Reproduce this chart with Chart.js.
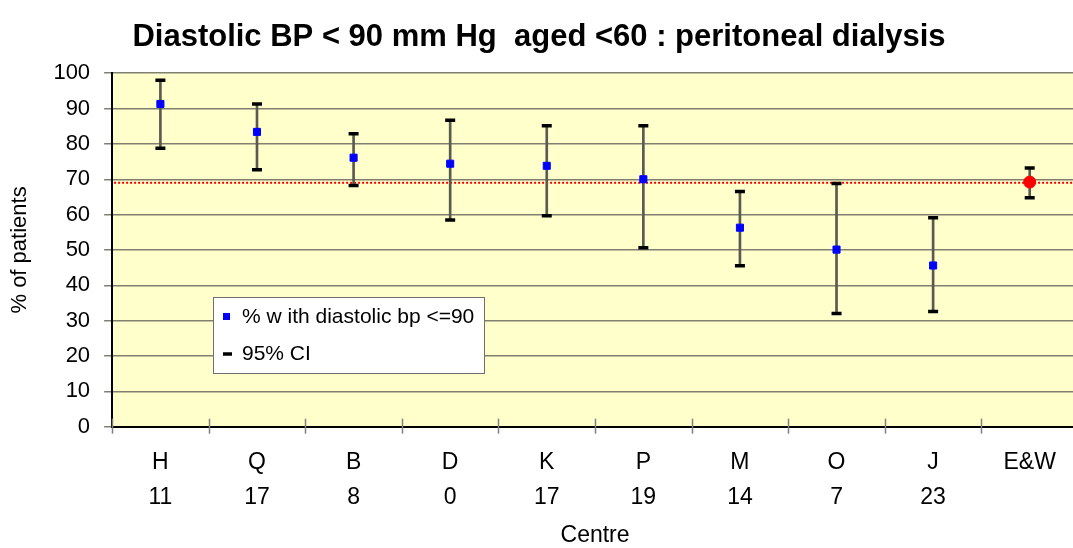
<!DOCTYPE html>
<html>
<head>
<meta charset="utf-8">
<script src="https://cdn.jsdelivr.net/npm/chart.js@4"></script>
<style>
    html, body { margin: 0; padding: 0; background: #ffffff; overflow: hidden; }
    canvas { display: block; }
</style>
</head>
<body>
<canvas id="chart" width="1100" height="548"></canvas>
<script>
const centres = ['H', 'Q', 'B', 'D', 'K', 'P', 'M', 'O', 'J', 'E&W'];
const patientCounts = ['11', '17', '8', '0', '17', '19', '14', '7', '23', ''];
const percentWithBp = [91.3, 83.4, 76.1, 74.4, 73.8, 70.0, 56.3, 50.1, 45.6, 69.2];
const ciLower = [78.8, 72.7, 68.2, 58.5, 59.7, 50.6, 45.5, 32.0, 32.6, 64.8];
const ciUpper = [98.0, 91.3, 82.9, 86.7, 85.1, 85.1, 66.5, 68.8, 59.1, 73.2];
const nationalAverage = 69.0;
const yTicks = [0, 10, 20, 30, 40, 50, 60, 70, 80, 90, 100];

const FONT = 'Arial, "Liberation Sans", sans-serif';
const lastIndex = centres.length - 1;

const plotBackground = {
    id: 'plotBackground',
    beforeDraw(chart) {
        const { ctx, chartArea: a } = chart;
        ctx.save();
        ctx.fillStyle = '#ffffcc';
        ctx.fillRect(a.left, a.top, a.right - a.left, a.bottom - a.top);
        ctx.restore();
    },
};

// dotted red line for the E&W average
const averageLine = {
    id: 'averageLine',
    beforeDatasetsDraw(chart) {
        const { ctx, chartArea: a, scales } = chart;
        const y = scales.y.getPixelForValue(nationalAverage);
        ctx.save();
        ctx.strokeStyle = '#ff0000';
        ctx.lineWidth = 2;
        ctx.setLineDash([2, 2]);
        ctx.beginPath();
        ctx.moveTo(a.left + 2, y);
        ctx.lineTo(a.right, y);
        ctx.stroke();
        ctx.restore();
    },
};

// x tick marks crossing the axis, between categories
const crossTicks = {
    id: 'crossTicks',
    afterDraw(chart) {
        const { ctx, scales } = chart;
        const x = scales.x;
        ctx.save();
        ctx.strokeStyle = '#808080';
        ctx.lineWidth = 1.5;
        for (let i = 0; i <= centres.length; i++) {
            const px = Math.round(x.getPixelForValue(i - 0.5)) + 0.5;
            ctx.beginPath();
            ctx.moveTo(px, x.top - 8);
            ctx.lineTo(px, x.top + 7);
            ctx.stroke();
        }
        ctx.restore();
    },
};

const boxLegend = {
    id: 'boxLegend',
    afterDraw(chart) {
        const { ctx } = chart;
        const ds = chart.data.datasets;
        ctx.save();
        ctx.fillStyle = '#ffffff';
        ctx.fillRect(213, 297, 271, 76);
        ctx.strokeStyle = '#707070';
        ctx.lineWidth = 1;
        ctx.strokeRect(213.5, 297.5, 271, 76);

        ctx.fillStyle = '#0000ff';
        ctx.fillRect(223, 313, 7, 7);
        ctx.strokeStyle = '#000000';
        ctx.lineWidth = 3.5;
        ctx.beginPath();
        ctx.moveTo(223, 354);
        ctx.lineTo(232, 354);
        ctx.stroke();

        ctx.fillStyle = '#000000';
        ctx.font = '21px ' + FONT;
        ctx.textBaseline = 'middle';
        ctx.fillText(ds[0].label, 242, 317);
        ctx.fillText(ds[1].label, 242, 354);
        ctx.restore();
    },
};

new Chart(document.getElementById('chart'), {
    type: 'bar',
    data: {
        labels: centres.map((c, i) => [c, patientCounts[i]]),
        datasets: [
            {
                type: 'line',
                label: '% w ith diastolic bp <=90',
                data: percentWithBp,
                showLine: false,
                order: 1,
                pointStyle: (ctx) => (ctx.dataIndex === lastIndex ? 'circle' : 'rect'),
                pointRadius: (ctx) => (ctx.dataIndex === lastIndex ? 6 : 5),
                pointBackgroundColor: (ctx) => (ctx.dataIndex === lastIndex ? '#ff0000' : '#0000ff'),
                pointBorderColor: (ctx) => (ctx.dataIndex === lastIndex ? '#ff0000' : '#0000ff'),
                pointBorderWidth: 1,
            },
            {
                type: 'line',
                label: '95% CI',
                data: ciUpper,
                showLine: false,
                order: 2,
                pointStyle: 'line',
                pointRadius: 5,
                pointBorderWidth: 3.5,
                pointBorderColor: '#000000',
            },
            {
                type: 'line',
                label: '95% CI lower',
                data: ciLower,
                showLine: false,
                order: 2,
                pointStyle: 'line',
                pointRadius: 5,
                pointBorderWidth: 3.5,
                pointBorderColor: '#000000',
            },
            {
                type: 'bar',
                label: 'range',
                data: ciLower.map((lo, i) => [lo, ciUpper[i]]),
                backgroundColor: '#5a5a50',
                barThickness: 2,
                order: 3,
            },
        ],
    },
    plugins: [plotBackground, averageLine, crossTicks, boxLegend],
    options: {
        responsive: false,
        animation: false,
        layout: {
            padding: { left: 0, right: 22, top: 0, bottom: 0 },
        },
        plugins: {
            legend: { display: false },
            tooltip: { enabled: false },
            title: {
                display: true,
                text: 'Diastolic BP < 90 mm Hg  aged <60 : peritoneal dialysis',
                color: '#000000',
                font: { family: FONT, size: 31, weight: 'bold', lineHeight: 1.2 },
                padding: { top: 19, bottom: 17 },
            },
        },
        scales: {
            x: {
                offset: true,
                grid: {
                    display: true,
                    drawOnChartArea: false,
                    drawTicks: true,
                    tickLength: 7,
                    color: 'rgba(0,0,0,0)',
                },
                border: { display: true, color: '#000000', width: 2 },
                ticks: {
                    color: '#000000',
                    padding: 12,
                    maxRotation: 0,
                    font: { family: FONT, size: 23, lineHeight: 1.5 },
                },
                title: {
                    display: true,
                    text: 'Centre',
                    color: '#000000',
                    font: { family: FONT, size: 23, lineHeight: 1.1 },
                    padding: { top: -4, bottom: 0 },
                },
            },
            y: {
                min: 0,
                max: 100,
                afterBuildTicks: (scale) => {
                    scale.ticks = yTicks.map((v) => ({ value: v }));
                },
                grid: {
                    color: '#808070',
                    lineWidth: 1.5,
                    tickLength: 8,
                },
                border: { display: true, color: '#000000', width: 2 },
                ticks: {
                    color: '#000000',
                    padding: 14,
                    font: { family: FONT, size: 22 },
                },
                title: {
                    display: true,
                    text: '% of patients',
                    color: '#000000',
                    font: { family: FONT, size: 22, lineHeight: 1.2 },
                    padding: { top: 7, bottom: 6 },
                },
            },
        },
    },
});
</script>
</body>
</html>
